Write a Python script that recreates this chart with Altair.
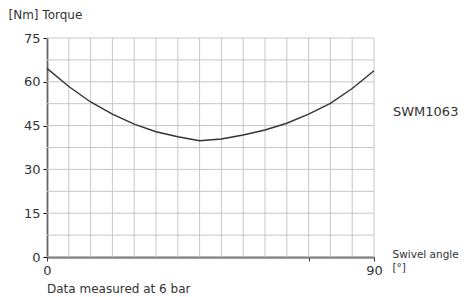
import altair as alt
import pandas as pd

# Data
angles = [0, 6, 12, 18, 24, 30, 36, 42, 48, 54, 60, 66, 72, 78, 84, 90]
torque = [64.6, 58.4, 53.1, 48.9, 45.5, 42.9, 41.2, 39.8, 40.4, 41.8, 43.5, 45.8, 48.9, 52.6, 57.7, 63.8]

x_grid = [0, 6, 12, 18, 24, 30, 36, 42, 48, 54, 60, 66, 72, 78, 84, 90]
y_grid = [0, 7.5, 15, 22.5, 30, 37.5, 45, 52.5, 60, 67.5, 75]
x_ticks = [0, 72, 90]
y_ticks = [0, 15, 30, 45, 60, 75]

series_name = "SWM1063"
y_title = "[Nm] Torque"
x_title = ["Swivel angle", "[°]"]
note = "Data measured at 6 bar"

FONT = "DejaVu Sans"
TXT = "#333333"
GRID = "#c6c6c6"

W, H = 327, 219

xs = alt.Scale(domain=[0, 90], nice=False, zero=False)
ys = alt.Scale(domain=[0, 75], nice=False, zero=False)

x_axis = alt.Axis(
    values=x_ticks,
    labelExpr="datum.value == 72 ? '' : datum.label",
    grid=False,
    tickSize=4,
    tickColor="#333333",
    domainColor="#444444",
    domainWidth=2,
    labelFont=FONT,
    labelFontSize=13,
    labelColor=TXT,
    labelPadding=3,
    labelFlush=False,
    title=x_title,
    titleFont=FONT,
    titleFontSize=10.5,
    titleFontWeight="normal",
    titleColor=TXT,
    titleAngle=0,
    titleAlign="left",
    titleBaseline="alphabetic",
    titleX=345,
    titleY=0,
    titleLineHeight=13,
)
y_axis = alt.Axis(
    values=y_ticks,
    grid=False,
    tickSize=4,
    tickColor="#000000",
    domainColor="#000000",
    domainWidth=1.5,
    labelFont=FONT,
    labelFontSize=13,
    labelColor=TXT,
    labelPadding=3,
    labelFlush=False,
    title=y_title,
    titleFont=FONT,
    titleFontSize=12,
    titleFontWeight="normal",
    titleColor=TXT,
    titleAngle=0,
    titleAlign="left",
    titleBaseline="alphabetic",
    titleX=-39,
    titleY=-20,
)

df = pd.DataFrame({"angle": angles, "torque": torque})

gx = alt.Chart(pd.DataFrame({"angle": x_grid})).mark_rule(color=GRID, strokeWidth=1).encode(
    x=alt.X("angle:Q", scale=xs, axis=x_axis)
)
gy = alt.Chart(pd.DataFrame({"torque": y_grid})).mark_rule(color=GRID, strokeWidth=1).encode(
    y=alt.Y("torque:Q", scale=ys, axis=y_axis)
)

line = alt.Chart(df).mark_line(color="#333333", strokeWidth=1.4).encode(
    x=alt.X("angle:Q", scale=xs, axis=x_axis),
    y=alt.Y("torque:Q", scale=ys, axis=y_axis),
)

label = alt.Chart(pd.DataFrame({"t": [series_name]})).mark_text(
    align="left", baseline="alphabetic", font=FONT, fontSize=13, color=TXT
).encode(x=alt.value(346), y=alt.value(78), text="t:N")

note_txt = alt.Chart(pd.DataFrame({"t": [note]})).mark_text(
    align="left", baseline="alphabetic", font=FONT, fontSize=12, color=TXT
).encode(x=alt.value(0), y=alt.value(255), text="t:N")

chart = alt.layer(gx, gy, line, label, note_txt).properties(
    width=W,
    height=H,
    autosize=alt.AutoSizeParams(type="none"),
    padding={"left": 39, "top": 30, "right": 87, "bottom": 39},
).configure_view(stroke=None)

chart.save("out.html", embed_options={"renderer": "svg", "actions": False})
